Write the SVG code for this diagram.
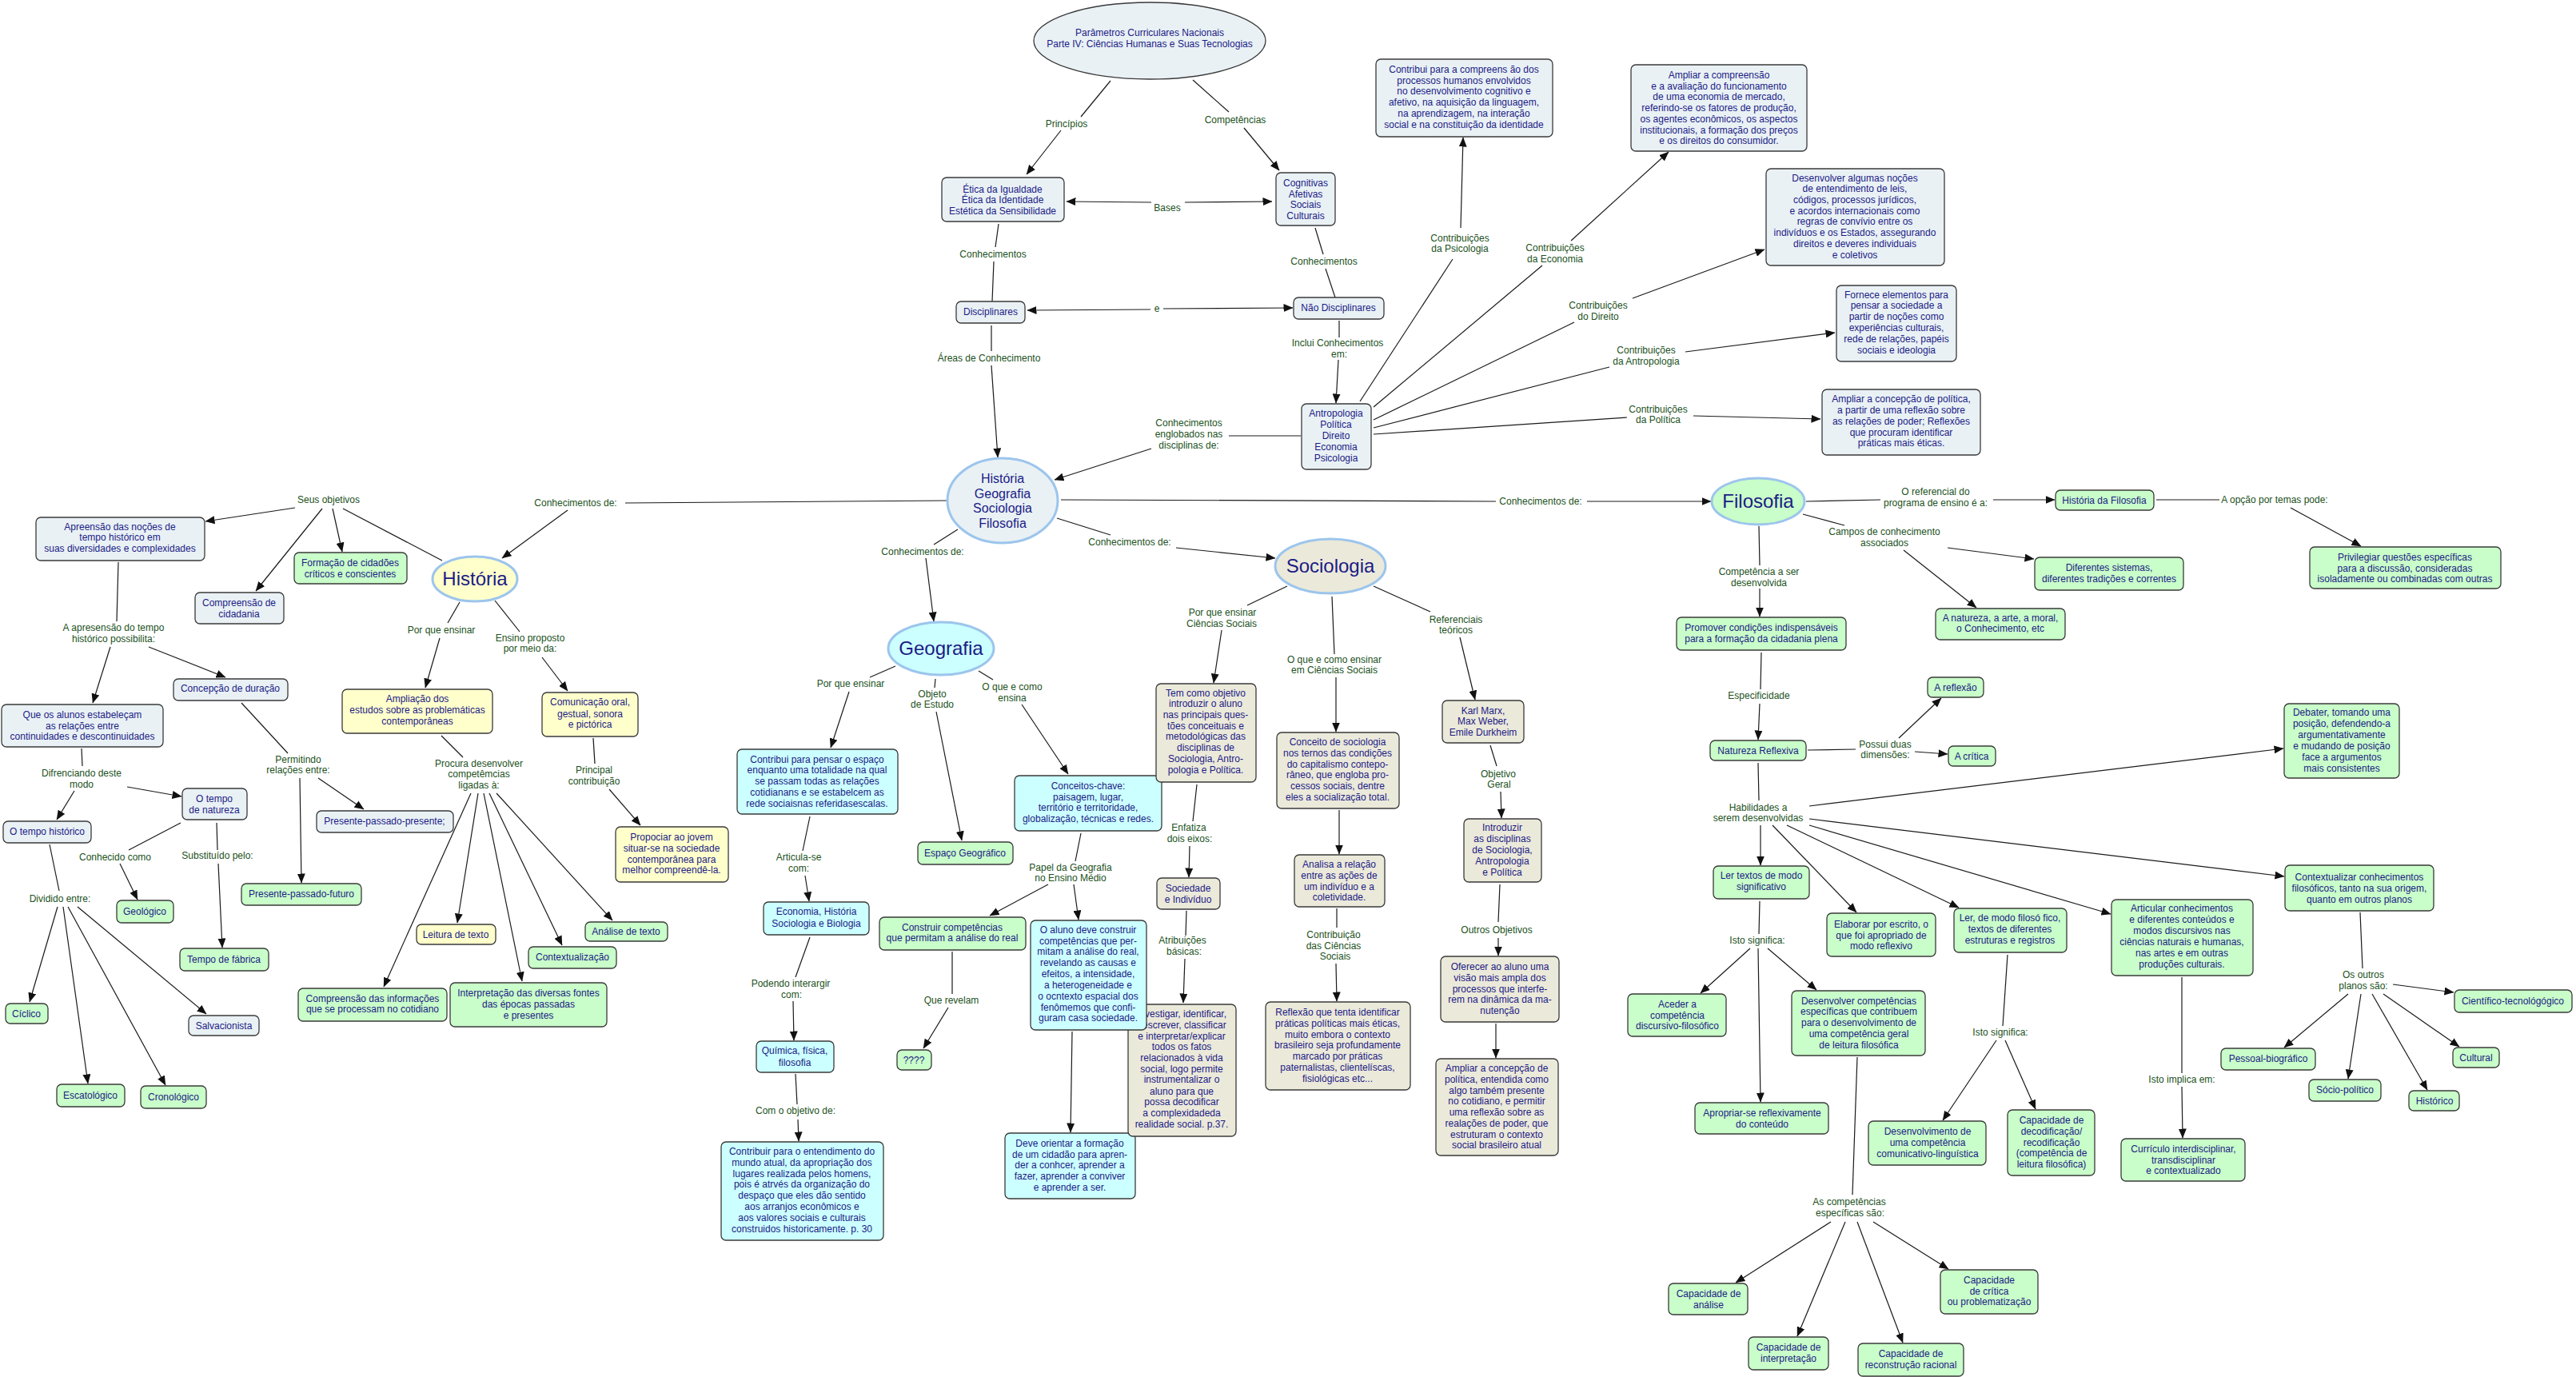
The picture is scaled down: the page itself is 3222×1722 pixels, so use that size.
<svg xmlns="http://www.w3.org/2000/svg" width="3222" height="1722" viewBox="0 0 3222 1722">
<defs>
<marker id="ar" viewBox="0 0 12 10" refX="11.5" refY="5" markerWidth="12" markerHeight="10" markerUnits="userSpaceOnUse" orient="auto-start-reverse"><path d="M0,0 L12,5 L0,10 z" fill="#111"/></marker>
<style>
.n rect{stroke:#3a3a3a;stroke-width:1.3}
.b{fill:#e9f1f5}.g{fill:#c9fdc9}.y{fill:#ffffcc}.c{fill:#ccffff}.k{fill:#ebe9da}
.t{font-family:"Liberation Sans",Arial,sans-serif;font-size:12px;fill:#1b1b85;text-anchor:middle}
.big{font-family:"Liberation Sans",Arial,sans-serif;font-size:24px;fill:#1b1b85;text-anchor:middle}
.mid{font-family:"Liberation Sans",Arial,sans-serif;font-size:16px;fill:#1b1b85;text-anchor:middle}
.l{font-family:"Liberation Sans",Arial,sans-serif;font-size:12px;fill:#215121;text-anchor:middle}
.e{stroke:#9cc5ec;stroke-width:3}
#connectors path{stroke:#1a1a1a;stroke-width:1.2;fill:none}
#connectors path.a{marker-end:url(#ar)}
#connectors path.d{marker-start:url(#ar);marker-end:url(#ar)}
</style>
</defs>
<rect width="3222" height="1722" fill="#ffffff"/>

<g id="connectors">
<path d="M1389,101 L1352,146"/><path class="a" d="M1327,163 L1284,218"/>
<path d="M1492,100 L1537,140"/><path class="a" d="M1556,160 L1600,213"/>
<path class="a" d="M1440,253 L1334,252"/><path class="a" d="M1482,253 L1591,252"/>
<path d="M1249,280 L1245,309"/><path d="M1243,327 L1241,377"/>
<path class="a" d="M1439,387 L1285,388"/><path class="a" d="M1455,386 L1617,385"/>
<path d="M1240,407 L1240,439"/><path class="a" d="M1240,457 L1248,572"/>
<path d="M1645,285 L1655,318"/><path d="M1658,336 L1670,372"/>
<path d="M1675,401 L1675,422"/><path class="a" d="M1674,450 L1671,504"/>
<path d="M1627,545 L1537,545"/><path class="a" d="M1440,561 L1319,600"/>
<path d="M1701,502 L1817,324"/><path class="a" d="M1827,285 L1830,172"/>
<path d="M1718,509 L1929,332"/><path class="a" d="M1965,301 L2087,190"/>
<path d="M1718,525 L1969,403"/><path class="a" d="M2042,373 L2207,312"/>
<path d="M1718,535 L2013,459"/><path class="a" d="M2108,440 L2295,416"/>
<path d="M1718,543 L2035,522"/><path class="a" d="M2118,520 L2277,524"/>
<path d="M1185,626 L782,629"/><path class="a" d="M710,638 L628,698"/>
<path d="M1327,625 L1871,627"/><path class="a" d="M1985,627 L2140,627"/>
<path d="M1198,662 L1168,681"/><path class="a" d="M1158,698 L1168,777"/>
<path d="M1322,648 L1389,669"/><path class="a" d="M1471,685 L1595,698"/>
<path d="M553,701 L429,636"/>
<path class="a" d="M369,635 L257,652"/><path class="a" d="M403,636 L320,739"/><path class="a" d="M416,636 L428,690"/>
<path d="M575,753 L560,779"/><path class="a" d="M550,798 L532,860"/>
<path d="M619,751 L650,790"/><path class="a" d="M678,822 L710,864"/>
<path d="M742,923 L744,955"/><path class="a" d="M762,987 L801,1032"/>
<path d="M148,703 L146,777"/>
<path class="a" d="M138,809 L116,879"/><path class="a" d="M186,809 L282,847"/>
<path d="M102,936 L103,958"/>
<path class="a" d="M93,989 L71,1025"/><path class="a" d="M159,984 L227,996"/>
<path d="M302,879 L360,942"/>
<path class="a" d="M375,973 L377,1104"/><path class="a" d="M398,973 L455,1012"/>
<path d="M226,1029 L161,1063"/><path class="a" d="M150,1080 L172,1125"/>
<path d="M271,1029 L272,1063"/><path class="a" d="M273,1080 L278,1185"/>
<path d="M62,1056 L74,1114"/>
<path class="a" d="M72,1134 L37,1253"/><path class="a" d="M79,1134 L110,1355"/><path class="a" d="M85,1134 L207,1357"/><path class="a" d="M97,1134 L258,1268"/>
<path d="M552,920 L579,947"/>
<path class="a" d="M589,992 L480,1234"/><path class="a" d="M598,992 L572,1154"/><path class="a" d="M605,992 L653,1227"/><path class="a" d="M612,992 L703,1182"/><path class="a" d="M621,992 L766,1151"/>
<path d="M1120,833 L1088,847"/><path class="a" d="M1062,865 L1039,935"/>
<path d="M1170,849 L1169,860"/><path class="a" d="M1171,890 L1203,1051"/>
<path d="M1224,839 L1242,850"/><path class="a" d="M1278,881 L1336,968"/>
<path d="M1013,1021 L1004,1064"/><path class="a" d="M1007,1095 L1012,1127"/>
<path d="M1352,1042 L1345,1077"/><path class="a" d="M1311,1106 L1238,1145"/><path class="a" d="M1343,1106 L1349,1150"/>
<path d="M1191,1190 L1191,1243"/><path class="a" d="M1186,1260 L1155,1311"/>
<path d="M1013,1172 L995,1222"/><path class="a" d="M992,1252 L993,1301"/>
<path d="M995,1343 L997,1381"/><path class="a" d="M998,1400 L999,1427"/>
<path class="a" d="M1341,1290 L1339,1416"/>
<path d="M1610,733 L1560,757"/><path class="a" d="M1528,788 L1518,854"/>
<path d="M1497,981 L1492,1027"/><path class="a" d="M1488,1058 L1487,1097"/>
<path d="M1484,1139 L1483,1170"/><path class="a" d="M1482,1199 L1480,1254"/>
<path d="M1666,746 L1669,818"/><path class="a" d="M1671,847 L1671,915"/>
<path class="a" d="M1675,1013 L1675,1068"/>
<path d="M1672,1136 L1672,1160"/><path class="a" d="M1671,1205 L1672,1252"/>
<path d="M1718,733 L1789,765"/><path class="a" d="M1826,797 L1845,875"/>
<path d="M1864,932 L1872,958"/><path class="a" d="M1877,990 L1878,1023"/>
<path d="M1876,1106 L1874,1153"/><path class="a" d="M1874,1173 L1874,1195"/>
<path class="a" d="M1871,1280 L1871,1323"/>
<path d="M2259,627 L2352,625"/><path class="a" d="M2493,625 L2570,625"/>
<path d="M2697,625 L2776,625"/><path class="a" d="M2865,635 L2953,683"/>
<path d="M2255,643 L2307,657"/><path class="a" d="M2436,685 L2544,699"/><path class="a" d="M2381,688 L2472,760"/>
<path d="M2200,658 L2201,707"/><path class="a" d="M2201,736 L2201,771"/>
<path d="M2203,816 L2202,862"/><path class="a" d="M2201,880 L2199,925"/>
<path d="M2261,938 L2321,937"/><path class="a" d="M2375,923 L2428,873"/><path class="a" d="M2395,940 L2436,943"/>
<path d="M2199,954 L2200,1001"/>
<path class="a" d="M2263,1008 L2856,936"/>
<path class="a" d="M2263,1024 L2857,1096"/>
<path class="a" d="M2263,1032 L2640,1143"/>
<path class="a" d="M2235,1032 L2450,1135"/>
<path class="a" d="M2217,1032 L2322,1141"/>
<path class="a" d="M2202,1032 L2202,1082"/>
<path d="M2952,1141 L2955,1211"/>
<path class="a" d="M2993,1231 L3069,1241"/><path class="a" d="M2937,1243 L2857,1310"/><path class="a" d="M2953,1243 L2937,1349"/><path class="a" d="M2967,1243 L3036,1363"/><path class="a" d="M2981,1243 L3076,1309"/>
<path d="M2729,1222 L2729,1342"/><path class="a" d="M2729,1359 L2730,1423"/>
<path d="M2511,1194 L2505,1283"/><path class="a" d="M2497,1301 L2430,1401"/><path class="a" d="M2508,1301 L2546,1387"/>
<path d="M2201,1127 L2200,1168"/><path class="a" d="M2189,1186 L2127,1242"/><path class="a" d="M2199,1186 L2202,1378"/><path class="a" d="M2211,1186 L2272,1238"/>
<path d="M2323,1322 L2317,1494"/><path class="a" d="M2290,1528 L2171,1604"/><path class="a" d="M2308,1528 L2248,1671"/><path class="a" d="M2323,1528 L2380,1679"/><path class="a" d="M2343,1528 L2437,1587"/>

<g id="link-labels">
<text class="l" x="1334" y="159">Princípios</text>
<text class="l" x="1545" y="154">Competências</text>
<text class="l" x="1460" y="264">Bases</text>
<text class="l" x="1242" y="322">Conhecimentos</text>
<text class="l" x="1447" y="390">e</text>
<text class="l" x="1237" y="452">Áreas de Conhecimento</text>
<text class="l" x="1656" y="331">Conhecimentos</text>
<text class="l"><tspan x="1673" y="433">Inclui Conhecimentos</tspan><tspan x="1675" y="447">em:</tspan></text>
<text class="l"><tspan x="1487" y="533">Conhecimentos</tspan><tspan x="1487" y="547">englobados nas</tspan><tspan x="1487" y="561">disciplinas de:</tspan></text>
<text class="l"><tspan x="1826" y="302">Contribuições</tspan><tspan x="1826" y="315">da Psicologia</tspan></text>
<text class="l"><tspan x="1945" y="314">Contribuições</tspan><tspan x="1945" y="328">da Economia</tspan></text>
<text class="l"><tspan x="1999" y="386">Contribuições</tspan><tspan x="1999" y="400">do Direito</tspan></text>
<text class="l"><tspan x="2059" y="442">Contribuições</tspan><tspan x="2059" y="456">da Antropologia</tspan></text>
<text class="l"><tspan x="2074" y="516">Contribuições</tspan><tspan x="2074" y="529">da Política</tspan></text>
<text class="l" x="411" y="629">Seus objetivos</text>
<text class="l" x="720" y="633">Conhecimentos de:</text>
<text class="l" x="552" y="792">Por que ensinar</text>
<text class="l"><tspan x="663" y="802">Ensino proposto</tspan><tspan x="663" y="815">por meio da:</tspan></text>
<text class="l"><tspan x="743" y="967">Principal</tspan><tspan x="743" y="981">contribuição</tspan></text>
<text class="l"><tspan x="142" y="789">A apresensão do tempo</tspan><tspan x="142" y="803">histórico possibilita:</tspan></text>
<text class="l"><tspan x="102" y="971">Difrenciando deste</tspan><tspan x="102" y="985">modo</tspan></text>
<text class="l" x="144" y="1076">Conhecido como</text>
<text class="l" x="272" y="1074">Substituído pelo:</text>
<text class="l" x="75" y="1128">Dividido entre:</text>
<text class="l"><tspan x="373" y="954">Permitindo</tspan><tspan x="373" y="967">relações entre:</tspan></text>
<text class="l"><tspan x="599" y="959">Procura desenvolver</tspan><tspan x="599" y="972">competêmcias</tspan><tspan x="599" y="986">ligadas à:</tspan></text>
<text class="l" x="1154" y="694">Conhecimentos de:</text>
<text class="l" x="1413" y="682">Conhecimentos de:</text>
<text class="l" x="1927" y="631">Conhecimentos de:</text>
<text class="l" x="1064" y="859">Por que ensinar</text>
<text class="l"><tspan x="1166" y="872">Objeto</tspan><tspan x="1166" y="885">de Estudo</tspan></text>
<text class="l"><tspan x="1266" y="863">O que e como</tspan><tspan x="1266" y="877">ensina</tspan></text>
<text class="l"><tspan x="999" y="1076">Articula-se</tspan><tspan x="999" y="1090">com:</tspan></text>
<text class="l"><tspan x="1339" y="1089">Papel da Geografia</tspan><tspan x="1339" y="1102">no Ensino Médio</tspan></text>
<text class="l" x="1190" y="1255">Que revelam</text>
<text class="l"><tspan x="989" y="1234">Podendo interargir</tspan><tspan x="990" y="1248">com:</tspan></text>
<text class="l" x="995" y="1393">Com o objetivo de:</text>
<text class="l"><tspan x="1529" y="770">Por que ensinar</tspan><tspan x="1528" y="784">Ciências Sociais</tspan></text>
<text class="l"><tspan x="1487" y="1039">Enfatiza</tspan><tspan x="1488" y="1053">dois eixos:</tspan></text>
<text class="l"><tspan x="1479" y="1180">Atribuições</tspan><tspan x="1481" y="1194">básicas:</tspan></text>
<text class="l"><tspan x="1669" y="829">O que e como ensinar</tspan><tspan x="1669" y="842">em Ciências Sociais</tspan></text>
<text class="l"><tspan x="1668" y="1173">Contribuição</tspan><tspan x="1668" y="1187">das Ciências</tspan><tspan x="1670" y="1200">Sociais</tspan></text>
<text class="l"><tspan x="1821" y="779">Referenciais</tspan><tspan x="1821" y="792">teóricos</tspan></text>
<text class="l"><tspan x="1874" y="972">Objetivo</tspan><tspan x="1875" y="985">Geral</tspan></text>
<text class="l" x="1872" y="1167">Outros Objetivos</text>
<text class="l"><tspan x="2421" y="619">O referencial do</tspan><tspan x="2421" y="633">programa de ensino é a:</tspan></text>
<text class="l" x="2845" y="629">A opção por temas pode:</text>
<text class="l"><tspan x="2357" y="669">Campos de conhecimento</tspan><tspan x="2357" y="683">associados</tspan></text>
<text class="l"><tspan x="2200" y="719">Competência a ser</tspan><tspan x="2200" y="733">desenvolvida</tspan></text>
<text class="l" x="2200" y="874">Especificidade</text>
<text class="l"><tspan x="2358" y="935">Possui duas</tspan><tspan x="2358" y="948">dimensões:</tspan></text>
<text class="l"><tspan x="2199" y="1014">Habilidades a</tspan><tspan x="2199" y="1027">serem desenvolvidas</tspan></text>
<text class="l" x="2198" y="1180">Isto significa:</text>
<text class="l" x="2502" y="1295">Isto significa:</text>
<text class="l" x="2729" y="1354">Isto implica em:</text>
<text class="l"><tspan x="2956" y="1223">Os outros</tspan><tspan x="2956" y="1237">planos são:</tspan></text>
<text class="l"><tspan x="2313" y="1507">As competências</tspan><tspan x="2314" y="1521">específicas são:</tspan></text>
</g>
</g>

<g id="root"><ellipse cx="1438" cy="51" rx="145" ry="48" class="b" stroke="#3a3a3a" stroke-width="1.3"/><text class="t"><tspan x="1438" y="45">Parâmetros Curriculares Nacionais</tspan><tspan x="1438" y="59">Parte IV: Ciências Humanas e Suas Tecnologias</tspan></text></g>
<g id="etica" class="n"><rect x="1178" y="222" width="153" height="55" rx="6" class="b"/><text class="t"><tspan x="1254" y="241">Ética da Igualdade</tspan><tspan x="1254" y="254">Ética da Identidade</tspan><tspan x="1254" y="268">Estética da Sensibilidade</tspan></text></g>
<g id="cognitivas" class="n"><rect x="1596" y="216" width="74" height="66" rx="6" class="b"/><text class="t"><tspan x="1633" y="233">Cognitivas</tspan><tspan x="1633" y="247">Afetivas</tspan><tspan x="1633" y="260">Sociais</tspan><tspan x="1633" y="274">Culturais</tspan></text></g>
<g id="disciplinares" class="n"><rect x="1196" y="377" width="86" height="27" rx="6" class="b"/><text class="t" x="1239" y="394">Disciplinares</text></g>
<g id="nao-disciplinares" class="n"><rect x="1618" y="372" width="113" height="27" rx="6" class="b"/><text class="t" x="1674" y="389">Não Disciplinares</text></g>
<g id="antropologia" class="n"><rect x="1628" y="505" width="87" height="82" rx="6" class="b"/><text class="t"><tspan x="1671" y="521">Antropologia</tspan><tspan x="1671" y="535">Política</tspan><tspan x="1671" y="549">Direito</tspan><tspan x="1671" y="563">Economia</tspan><tspan x="1671" y="577">Psicologia</tspan></text></g>
<g id="psicologia" class="n"><rect x="1721" y="74" width="221" height="97" rx="6" class="b"/><text class="t"><tspan x="1831" y="91">Contribui para a compreens ão dos</tspan><tspan x="1831" y="105">processos humanos envolvidos</tspan><tspan x="1831" y="118">no desenvolvimento cognitivo e</tspan><tspan x="1831" y="132">afetivo, na aquisição da linguagem,</tspan><tspan x="1831" y="146">na aprendizagem, na interação</tspan><tspan x="1831" y="160">social e na constituição da identidade</tspan></text></g>
<g id="economia" class="n"><rect x="2040" y="81" width="220" height="108" rx="6" class="b"/><text class="t"><tspan x="2150" y="98">Ampliar a compreensão</tspan><tspan x="2150" y="112">e a avaliação do funcionamento</tspan><tspan x="2150" y="125">de uma economia de mercado,</tspan><tspan x="2150" y="139">referindo-se os fatores de produção,</tspan><tspan x="2150" y="153">os agentes econômicos, os aspectos</tspan><tspan x="2150" y="167">institucionais, a formação dos preços</tspan><tspan x="2150" y="180">e os direitos do consumidor.</tspan></text></g>
<g id="direito" class="n"><rect x="2209" y="211" width="223" height="121" rx="6" class="b"/><text class="t"><tspan x="2320" y="227">Desenvolver algumas noções</tspan><tspan x="2320" y="240">de entendimento de leis,</tspan><tspan x="2320" y="254">códigos, processos jurídicos,</tspan><tspan x="2320" y="268">e acordos internacionais como</tspan><tspan x="2320" y="281">regras de convívio entre os</tspan><tspan x="2320" y="295">indivíduos e os Estados, assegurando</tspan><tspan x="2320" y="309">direitos e deveres individuais</tspan><tspan x="2320" y="323">e coletivos</tspan></text></g>
<g id="antropologia-contrib" class="n"><rect x="2297" y="357" width="150" height="95" rx="6" class="b"/><text class="t"><tspan x="2372" y="373">Fornece elementos para</tspan><tspan x="2372" y="386">pensar a sociedade a</tspan><tspan x="2372" y="400">partir de noções como</tspan><tspan x="2372" y="414">experiências culturais,</tspan><tspan x="2372" y="428">rede de relações, papéis</tspan><tspan x="2372" y="442">sociais e ideologia</tspan></text></g>
<g id="politica" class="n"><rect x="2279" y="487" width="198" height="82" rx="6" class="b"/><text class="t"><tspan x="2378" y="503">Ampliar a concepção de política,</tspan><tspan x="2378" y="517">a partir de uma reflexão sobre</tspan><tspan x="2378" y="531">as  relações de poder; Reflexões</tspan><tspan x="2378" y="545">que procuram identificar</tspan><tspan x="2378" y="558">práticas mais éticas.</tspan></text></g>

<g id="hgsf"><ellipse cx="1254" cy="626" rx="69" ry="53" class="b e"/><text class="mid"><tspan x="1254" y="604">História</tspan><tspan x="1254" y="623">Geografia</tspan><tspan x="1254" y="641">Sociologia</tspan><tspan x="1254" y="660">Filosofia</tspan></text></g>
<g id="historia"><ellipse cx="594" cy="724" rx="53" ry="28" class="y e"/><text class="big" x="594" y="732">História</text></g>
<g id="geografia"><ellipse cx="1177" cy="811" rx="66" ry="33" class="c e"/><text class="big" x="1177" y="819">Geografia</text></g>
<g id="sociologia"><ellipse cx="1664" cy="708" rx="69" ry="34" class="k e"/><text class="big" x="1664" y="716">Sociologia</text></g>
<g id="filosofia"><ellipse cx="2199" cy="627" rx="58" ry="29" class="g e"/><text class="big" x="2199" y="635">Filosofia</text></g>

<g id="apreensao" class="n"><rect x="45" y="647" width="211" height="54" rx="6" class="b"/><text class="t"><tspan x="150" y="663">Apreensão das noções de</tspan><tspan x="150" y="676">tempo histórico em</tspan><tspan x="150" y="690">suas diversidades e complexidades</tspan></text></g>
<g id="formacao" class="n"><rect x="368" y="691" width="141" height="39" rx="6" class="g"/><text class="t"><tspan x="438" y="708">Formação de cidadões</tspan><tspan x="438" y="722">críticos e conscientes</tspan></text></g>
<g id="compreensao-cidadania" class="n"><rect x="244" y="741" width="111" height="39" rx="6" class="b"/><text class="t"><tspan x="299" y="758">Compreensão de</tspan><tspan x="299" y="772">cidadania</tspan></text></g>
<g id="ampliacao-estudos" class="n"><rect x="428" y="862" width="188" height="55" rx="6" class="y"/><text class="t"><tspan x="522" y="878">Ampliação dos</tspan><tspan x="522" y="892">estudos sobre as problemáticas</tspan><tspan x="522" y="906">contemporâneas</tspan></text></g>
<g id="comunicacao" class="n"><rect x="678" y="866" width="120" height="55" rx="6" class="y"/><text class="t"><tspan x="738" y="882">Comunicação oral,</tspan><tspan x="738" y="897">gestual, sonora</tspan><tspan x="738" y="910">e pictórica</tspan></text></g>
<g id="propociar" class="n"><rect x="770" y="1034" width="141" height="69" rx="6" class="y"/><text class="t"><tspan x="840" y="1051">Propociar ao jovem</tspan><tspan x="840" y="1065">situar-se na sociedade</tspan><tspan x="840" y="1079">contemporânea para</tspan><tspan x="840" y="1092">melhor compreendê-la.</tspan></text></g>
<g id="concepcao-duracao" class="n"><rect x="217" y="849" width="143" height="27" rx="6" class="b"/><text class="t" x="288" y="865">Concepção de duração</text></g>
<g id="que-os-alunos" class="n"><rect x="2" y="881" width="202" height="53" rx="6" class="b"/><text class="t"><tspan x="103" y="898">Que os alunos estabeleçam</tspan><tspan x="103" y="912">as relações entre</tspan><tspan x="103" y="925">continuidades e descontinuidades</tspan></text></g>
<g id="tempo-historico" class="n"><rect x="4" y="1027" width="110" height="27" rx="6" class="b"/><text class="t" x="59" y="1044">O tempo histórico</text></g>
<g id="tempo-natureza" class="n"><rect x="228" y="986" width="81" height="39" rx="6" class="b"/><text class="t"><tspan x="268" y="1003">O tempo</tspan><tspan x="268" y="1017">de natureza</tspan></text></g>
<g id="geologico" class="n"><rect x="146" y="1126" width="71" height="28" rx="6" class="g"/><text class="t" x="181" y="1144">Geológico</text></g>
<g id="tempo-fabrica" class="n"><rect x="225" y="1186" width="111" height="28" rx="6" class="g"/><text class="t" x="280" y="1204">Tempo de fábrica</text></g>
<g id="ciclico" class="n"><rect x="7" y="1255" width="53" height="25" rx="6" class="g"/><text class="t" x="33" y="1272">Cíclico</text></g>
<g id="escatologico" class="n"><rect x="71" y="1356" width="85" height="28" rx="6" class="g"/><text class="t" x="113" y="1374">Escatológico</text></g>
<g id="cronologico" class="n"><rect x="176" y="1358" width="82" height="28" rx="6" class="g"/><text class="t" x="217" y="1376">Cronológico</text></g>
<g id="salvacionista" class="n"><rect x="236" y="1270" width="88" height="25" rx="6" class="b"/><text class="t" x="280" y="1287">Salvacionista</text></g>
<g id="ppp" class="n"><rect x="396" y="1014" width="171" height="27" rx="6" class="b"/><text class="t" x="481" y="1031">Presente-passado-presente;</text></g>
<g id="ppf" class="n"><rect x="302" y="1105" width="150" height="27" rx="6" class="g"/><text class="t" x="377" y="1122">Presente-passado-futuro</text></g>
<g id="leitura-texto" class="n"><rect x="521" y="1156" width="99" height="25" rx="6" class="y"/><text class="t" x="570" y="1173">Leitura de texto</text></g>
<g id="contextualizacao" class="n"><rect x="661" y="1184" width="110" height="27" rx="6" class="g"/><text class="t" x="716" y="1201">Contextualização</text></g>
<g id="analise-texto" class="n"><rect x="732" y="1153" width="103" height="24" rx="6" class="g"/><text class="t" x="783" y="1169">Análise de texto</text></g>
<g id="compreensao-info" class="n"><rect x="373" y="1236" width="186" height="41" rx="6" class="g"/><text class="t"><tspan x="466" y="1253">Compreensão das informações</tspan><tspan x="466" y="1266">que se processam no cotidiano</tspan></text></g>
<g id="interpretacao" class="n"><rect x="563" y="1229" width="196" height="55" rx="6" class="g"/><text class="t"><tspan x="661" y="1246">Interpretação das diversas fontes</tspan><tspan x="661" y="1260">das épocas passadas</tspan><tspan x="661" y="1274">e presentes</tspan></text></g>

<g id="contribui-espaco" class="n"><rect x="922" y="937" width="201" height="81" rx="6" class="c"/><text class="t"><tspan x="1022" y="954">Contribui para pensar o espaço</tspan><tspan x="1022" y="967">enquanto uma totalidade na qual</tspan><tspan x="1022" y="981">se passam todas as relações</tspan><tspan x="1022" y="995">cotidianans e se estabelcem as</tspan><tspan x="1022" y="1009">rede sociaisnas referidasescalas.</tspan></text></g>
<g id="espaco-geografico" class="n"><rect x="1148" y="1053" width="119" height="28" rx="6" class="g"/><text class="t" x="1207" y="1071">Espaço Geográfico</text></g>
<g id="conceitos-chave" class="n"><rect x="1269" y="970" width="184" height="69" rx="6" class="c"/><text class="t"><tspan x="1361" y="987">Conceitos-chave:</tspan><tspan x="1361" y="1001">paisagem, lugar,</tspan><tspan x="1361" y="1014">território e territoridade,</tspan><tspan x="1361" y="1028">globalização, técnicas e redes.</tspan></text></g>
<g id="economia-historia" class="n"><rect x="955" y="1128" width="132" height="41" rx="6" class="c"/><text class="t"><tspan x="1021" y="1144">Economia, História</tspan><tspan x="1021" y="1159">Sociologia e Biologia</tspan></text></g>
<g id="construir" class="n"><rect x="1100" y="1147" width="183" height="41" rx="6" class="g"/><text class="t"><tspan x="1191" y="1164">Construir competências</tspan><tspan x="1191" y="1177">que permitam a análise do real</tspan></text></g>
<g id="interrogacao" class="n"><rect x="1122" y="1313" width="43" height="25" rx="6" class="g"/><text class="t" x="1143" y="1330">????</text></g>
<g id="quimica" class="n"><rect x="946" y="1302" width="97" height="39" rx="6" class="c"/><text class="t"><tspan x="994" y="1318">Química, física,</tspan><tspan x="994" y="1333">filosofia</tspan></text></g>
<g id="contribuir-entendimento" class="n"><rect x="902" y="1428" width="203" height="123" rx="6" class="c"/><text class="t"><tspan x="1003" y="1444">Contribuir para o entendimento do</tspan><tspan x="1003" y="1458">mundo atual, da apropriação dos</tspan><tspan x="1003" y="1472">lugares realizada pelos homens,</tspan><tspan x="1003" y="1485">pois é atrvés da organização do</tspan><tspan x="1003" y="1499">despaço que eles dão sentido</tspan><tspan x="1003" y="1513">aos arranjos econômicos e</tspan><tspan x="1003" y="1527">aos valores sociais e culturais</tspan><tspan x="1003" y="1541">construidos historicamente. p. 30</tspan></text></g>
<g id="deve-orientar" class="n"><rect x="1257" y="1417" width="163" height="82" rx="6" class="c"/><text class="t"><tspan x="1338" y="1434">Deve orientar a formação</tspan><tspan x="1338" y="1448">de um cidadão para apren-</tspan><tspan x="1338" y="1461">der a conhcer, aprender a</tspan><tspan x="1338" y="1475">fazer, aprender a conviver</tspan><tspan x="1338" y="1489">e aprender a ser.</tspan></text></g>

<g id="tem-como-objetivo" class="n"><rect x="1446" y="855" width="125" height="123" rx="6" class="k"/><text class="t"><tspan x="1508" y="871">Tem como objetivo</tspan><tspan x="1508" y="884">introduzir o aluno</tspan><tspan x="1508" y="898">nas principais ques-</tspan><tspan x="1508" y="912">tões conceituais e</tspan><tspan x="1508" y="925">metodológicas das</tspan><tspan x="1508" y="939">disciplinas de</tspan><tspan x="1508" y="953">Sociologia, Antro-</tspan><tspan x="1508" y="967">pologia e Política.</tspan></text></g>
<g id="sociedade-individuo" class="n"><rect x="1447" y="1098" width="79" height="39" rx="6" class="k"/><text class="t"><tspan x="1486" y="1115">Sociedade</tspan><tspan x="1486" y="1129">e Indivíduo</tspan></text></g>
<g id="investigar" class="n"><rect x="1411" y="1256" width="135" height="165" rx="6" class="k"/><text class="t"><tspan x="1478" y="1272">Investigar, identificar,</tspan><tspan x="1478" y="1286">descrever, classificar</tspan><tspan x="1478" y="1300">e interpretar/explicar</tspan><tspan x="1478" y="1313">todos os fatos</tspan><tspan x="1478" y="1327">relacionados à vida</tspan><tspan x="1478" y="1341">social, logo permite</tspan><tspan x="1478" y="1354">instrumentalizar o</tspan><tspan x="1478" y="1369">aluno para que</tspan><tspan x="1478" y="1382">possa decodificar</tspan><tspan x="1478" y="1396">a complexidadeda</tspan><tspan x="1478" y="1410">realidade social. p.37.</tspan></text></g>
<g id="o-aluno-deve" class="n"><rect x="1289" y="1151" width="145" height="137" rx="6" class="c"/><text class="t"><tspan x="1361" y="1167">O aluno deve construir</tspan><tspan x="1361" y="1181">competências que per-</tspan><tspan x="1361" y="1194">mitam a análise do real,</tspan><tspan x="1361" y="1208">revelando as causas e</tspan><tspan x="1361" y="1222">efeitos, a intensidade,</tspan><tspan x="1361" y="1236">a heterogeneidade e</tspan><tspan x="1361" y="1250">o ocntexto espacial dos</tspan><tspan x="1361" y="1264">fenômemos que confi-</tspan><tspan x="1361" y="1277">guram casa sociedade.</tspan></text></g>
<g id="conceito-sociologia" class="n"><rect x="1597" y="916" width="153" height="95" rx="6" class="k"/><text class="t"><tspan x="1673" y="932">Conceito de sociologia</tspan><tspan x="1673" y="946">nos ternos das condições</tspan><tspan x="1673" y="960">do capitalismo contepo-</tspan><tspan x="1673" y="973">râneo, que engloba pro-</tspan><tspan x="1673" y="987">cessos sociais, dentre</tspan><tspan x="1673" y="1001">eles a socialização total.</tspan></text></g>
<g id="analisa" class="n"><rect x="1619" y="1069" width="113" height="65" rx="6" class="k"/><text class="t"><tspan x="1675" y="1085">Analisa a relação</tspan><tspan x="1675" y="1099">entre as ações de</tspan><tspan x="1675" y="1113">um indivíduo e a</tspan><tspan x="1675" y="1126">coletividade.</tspan></text></g>
<g id="reflexao-etica" class="n"><rect x="1583" y="1253" width="181" height="110" rx="6" class="k"/><text class="t"><tspan x="1673" y="1270">Reflexão que tenta identificar</tspan><tspan x="1673" y="1284">práticas políticas mais éticas,</tspan><tspan x="1673" y="1298">muito embora o contexto</tspan><tspan x="1673" y="1311">brasileiro seja profundamente</tspan><tspan x="1673" y="1325">marcado por práticas</tspan><tspan x="1673" y="1339">paternalistas, clientelíscas,</tspan><tspan x="1673" y="1353">fisiológicas etc...</tspan></text></g>
<g id="karl-marx" class="n"><rect x="1804" y="876" width="102" height="53" rx="6" class="k"/><text class="t"><tspan x="1855" y="893">Karl Marx,</tspan><tspan x="1855" y="906">Max Weber,</tspan><tspan x="1855" y="920">Emile Durkheim</tspan></text></g>
<g id="introduzir" class="n"><rect x="1831" y="1024" width="97" height="79" rx="6" class="k"/><text class="t"><tspan x="1879" y="1039">Introduzir</tspan><tspan x="1879" y="1053">as disciplinas</tspan><tspan x="1879" y="1067">de Sociologia,</tspan><tspan x="1879" y="1081">Antropologia</tspan><tspan x="1879" y="1095">e Política</tspan></text></g>
<g id="oferecer" class="n"><rect x="1802" y="1196" width="148" height="82" rx="6" class="k"/><text class="t"><tspan x="1876" y="1213">Oferecer ao aluno uma</tspan><tspan x="1876" y="1227">visão mais ampla dos</tspan><tspan x="1876" y="1241">processos que interfe-</tspan><tspan x="1876" y="1254">rem na dinâmica da ma-</tspan><tspan x="1876" y="1268">nutenção</tspan></text></g>
<g id="ampliar-politica" class="n"><rect x="1796" y="1324" width="153" height="121" rx="6" class="k"/><text class="t"><tspan x="1872" y="1340">Ampliar a concepção de</tspan><tspan x="1872" y="1354">política, entendida como</tspan><tspan x="1872" y="1368">algo também presente</tspan><tspan x="1872" y="1381">no cotidiano, e permitir</tspan><tspan x="1872" y="1395">uma reflexão sobre as</tspan><tspan x="1872" y="1409">realações de poder, que</tspan><tspan x="1872" y="1423">estruturam o contexto</tspan><tspan x="1872" y="1436">social brasileiro atual</tspan></text></g>

<g id="historia-filosofia" class="n"><rect x="2571" y="613" width="123" height="25" rx="6" class="g"/><text class="t" x="2632" y="630">História da Filosofia</text></g>
<g id="privilegiar" class="n"><rect x="2889" y="684" width="239" height="52" rx="6" class="g"/><text class="t"><tspan x="3008" y="701">Privilegiar questões específicas</tspan><tspan x="3008" y="715">para a discussão, consideradas</tspan><tspan x="3008" y="728">isoladamente ou combinadas com outras</tspan></text></g>
<g id="diferentes-sistemas" class="n"><rect x="2545" y="697" width="186" height="41" rx="6" class="g"/><text class="t"><tspan x="2638" y="714">Diferentes sistemas,</tspan><tspan x="2638" y="728">diferentes tradições e correntes</tspan></text></g>
<g id="natureza-arte" class="n"><rect x="2421" y="761" width="162" height="39" rx="6" class="g"/><text class="t"><tspan x="2502" y="777">A natureza, a arte, a moral,</tspan><tspan x="2502" y="790">o Conhecimento, etc</tspan></text></g>
<g id="promover" class="n"><rect x="2097" y="772" width="212" height="41" rx="6" class="g"/><text class="t"><tspan x="2203" y="789">Promover condições  indispensáveis</tspan><tspan x="2203" y="803">para a formação da cidadania plena</tspan></text></g>
<g id="natureza-reflexiva" class="n"><rect x="2139" y="926" width="120" height="25" rx="6" class="g"/><text class="t" x="2199" y="943">Natureza Reflexiva</text></g>
<g id="a-reflexao" class="n"><rect x="2411" y="847" width="70" height="25" rx="6" class="g"/><text class="t" x="2446" y="864">A reflexão</text></g>
<g id="a-critica" class="n"><rect x="2437" y="933" width="59" height="25" rx="6" class="g"/><text class="t" x="2466" y="950">A crítica</text></g>
<g id="ler-significativo" class="n"><rect x="2143" y="1083" width="120" height="41" rx="6" class="g"/><text class="t"><tspan x="2203" y="1099">Ler textos de modo</tspan><tspan x="2203" y="1113">significativo</tspan></text></g>
<g id="elaborar" class="n"><rect x="2285" y="1142" width="136" height="54" rx="6" class="g"/><text class="t"><tspan x="2353" y="1160">Elaborar por escrito, o</tspan><tspan x="2353" y="1174">que foi apropriado de</tspan><tspan x="2353" y="1187">modo reflexivo</tspan></text></g>
<g id="ler-filosofico" class="n"><rect x="2444" y="1136" width="141" height="55" rx="6" class="g"/><text class="t"><tspan x="2514" y="1152">Ler, de modo filosó fico,</tspan><tspan x="2514" y="1166">textos de diferentes</tspan><tspan x="2514" y="1180">estruturas e registros</tspan></text></g>
<g id="articular" class="n"><rect x="2641" y="1125" width="177" height="95" rx="6" class="g"/><text class="t"><tspan x="2729" y="1140">Articular conhecimentos</tspan><tspan x="2729" y="1154">e diferentes conteúdos e</tspan><tspan x="2729" y="1168">modos discursivos nas</tspan><tspan x="2729" y="1182">ciências naturais e humanas,</tspan><tspan x="2729" y="1196">nas artes e em outras</tspan><tspan x="2729" y="1210">produções culturais.</tspan></text></g>
<g id="debater" class="n"><rect x="2857" y="880" width="144" height="93" rx="6" class="g"/><text class="t"><tspan x="2929" y="895">Debater, tomando uma</tspan><tspan x="2929" y="909">posição, defendendo-a</tspan><tspan x="2929" y="923">argumentativamente</tspan><tspan x="2929" y="937">e mudando de posição</tspan><tspan x="2929" y="951">face a argumentos</tspan><tspan x="2929" y="965">mais consistentes</tspan></text></g>
<g id="contextualizar" class="n"><rect x="2858" y="1082" width="186" height="57" rx="6" class="g"/><text class="t"><tspan x="2951" y="1101">Contextualizar conhecimentos</tspan><tspan x="2951" y="1115">filosóficos, tanto na sua origem,</tspan><tspan x="2951" y="1129">quanto em outros planos</tspan></text></g>
<g id="cientifico" class="n"><rect x="3070" y="1238" width="147" height="28" rx="6" class="g"/><text class="t" x="3143" y="1256">Científico-tecnológógico</text></g>
<g id="pessoal" class="n"><rect x="2778" y="1311" width="118" height="27" rx="6" class="g"/><text class="t" x="2837" y="1328">Pessoal-biográfico</text></g>
<g id="socio-politico" class="n"><rect x="2888" y="1350" width="90" height="27" rx="6" class="g"/><text class="t" x="2933" y="1367">Sócio-político</text></g>
<g id="historico" class="n"><rect x="3013" y="1364" width="63" height="25" rx="6" class="g"/><text class="t" x="3045" y="1381">Histórico</text></g>
<g id="cultural" class="n"><rect x="3068" y="1310" width="58" height="25" rx="6" class="g"/><text class="t" x="3097" y="1327">Cultural</text></g>
<g id="curriculo" class="n"><rect x="2653" y="1424" width="155" height="53" rx="6" class="g"/><text class="t"><tspan x="2731" y="1441">Currículo interdisciplinar,</tspan><tspan x="2731" y="1455">transdisciplinar</tspan><tspan x="2731" y="1468">e contextualizado</tspan></text></g>
<g id="comunicativo" class="n"><rect x="2337" y="1402" width="147" height="55" rx="6" class="g"/><text class="t"><tspan x="2411" y="1419">Desenvolvimento de</tspan><tspan x="2411" y="1433">uma competência</tspan><tspan x="2411" y="1447">comunicativo-linguística</tspan></text></g>
<g id="decodificacao" class="n"><rect x="2511" y="1388" width="109" height="82" rx="6" class="g"/><text class="t"><tspan x="2566" y="1405">Capacidade de</tspan><tspan x="2566" y="1419">decodificação/</tspan><tspan x="2566" y="1433">recodificação</tspan><tspan x="2566" y="1446">(competência de</tspan><tspan x="2566" y="1460">leitura filosófica)</tspan></text></g>
<g id="aceder" class="n"><rect x="2036" y="1243" width="123" height="53" rx="6" class="g"/><text class="t"><tspan x="2098" y="1260">Aceder a</tspan><tspan x="2098" y="1274">competência</tspan><tspan x="2098" y="1287">discursivo-filosófico</tspan></text></g>
<g id="apropriar" class="n"><rect x="2120" y="1379" width="167" height="39" rx="6" class="g"/><text class="t"><tspan x="2204" y="1396">Apropriar-se reflexivamente</tspan><tspan x="2204" y="1410">do conteúdo</tspan></text></g>
<g id="desenvolver-competencias" class="n"><rect x="2241" y="1239" width="167" height="81" rx="6" class="g"/><text class="t"><tspan x="2325" y="1256">Desenvolver competências</tspan><tspan x="2325" y="1269">específicas que contribuem</tspan><tspan x="2325" y="1283">para o desenvolvimento de</tspan><tspan x="2325" y="1297">uma competência geral</tspan><tspan x="2325" y="1311">de leitura filosófica</tspan></text></g>
<g id="cap-analise" class="n"><rect x="2087" y="1605" width="99" height="39" rx="6" class="g"/><text class="t"><tspan x="2137" y="1622">Capacidade de</tspan><tspan x="2137" y="1636">análise</tspan></text></g>
<g id="cap-interpretacao" class="n"><rect x="2187" y="1672" width="100" height="41" rx="6" class="g"/><text class="t"><tspan x="2237" y="1689">Capacidade de</tspan><tspan x="2237" y="1703">interpretação</tspan></text></g>
<g id="cap-reconstrucao" class="n"><rect x="2324" y="1680" width="132" height="41" rx="6" class="g"/><text class="t"><tspan x="2390" y="1697">Capacidade de</tspan><tspan x="2390" y="1711">reconstrução racional</tspan></text></g>
<g id="cap-critica" class="n"><rect x="2427" y="1588" width="122" height="55" rx="6" class="g"/><text class="t"><tspan x="2488" y="1605">Capacidade</tspan><tspan x="2488" y="1619">de crítica</tspan><tspan x="2488" y="1632">ou problematização</tspan></text></g>
</svg>
